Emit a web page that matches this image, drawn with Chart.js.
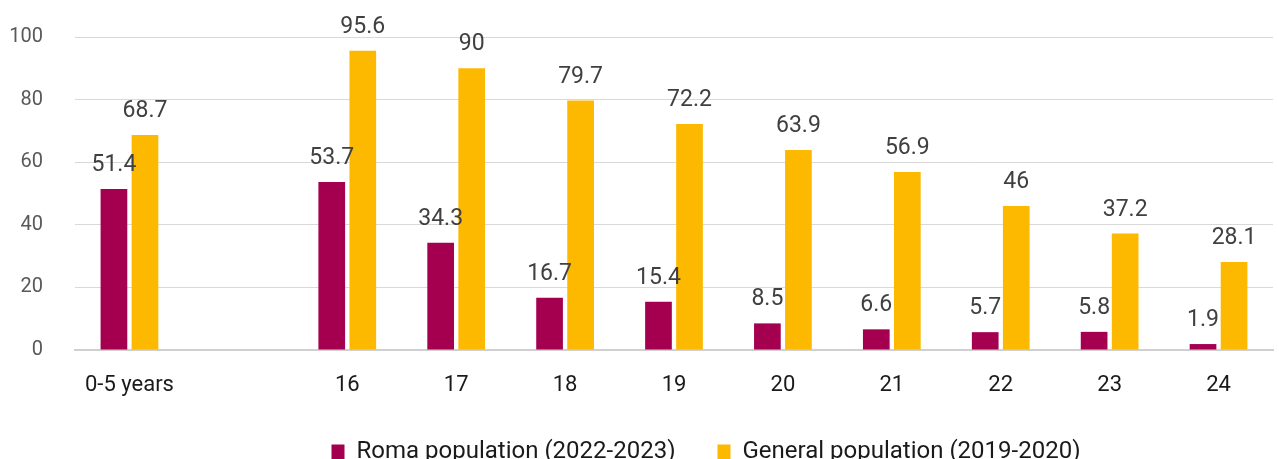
<!DOCTYPE html>
<html>
<head>
<meta charset="utf-8">
<script src="https://cdn.jsdelivr.net/npm/chart.js@4"></script>
<style>
  html, body { margin: 0; padding: 0; background: #fff; }
  #wrap { width: 1279px; height: 459px; }
</style>
</head>
<body>
<div id="wrap"><canvas id="grafico"></canvas></div>
<script>
const categorias = ["0-5 years", "", "16", "17", "18", "19", "20", "21", "22", "23", "24"];
const roma = [51.4, null, 53.7, 34.3, 16.7, 15.4, 8.5, 6.6, 5.7, 5.8, 1.9];
const geral = [68.7, null, 95.6, 90, 79.7, 72.2, 63.9, 56.9, 46, 37.2, 28.1];
const ticksY = [0, 20, 40, 60, 80, 100];

// escreve o valor acima de cada barra
const rotulos = {
  id: "rotulos",
  afterDatasetsDraw(chart) {
    const ctx = chart.ctx;
    ctx.save();
    ctx.font = "23px Roboto";
    ctx.fillStyle = "#404040";
    ctx.textAlign = "center";
    ctx.textBaseline = "alphabetic";
    chart.data.datasets.forEach((ds, i) => {
      chart.getDatasetMeta(i).data.forEach((bar, j) => {
        if (ds.data[j] == null) return;
        ctx.fillText(String(ds.data[j]), bar.x, bar.y - 18);
      });
    });
    ctx.restore();
  },
};

// empurra a legenda um pouco para a direita
const legendaDireita = {
  id: "legendaDireita",
  afterLayout(chart) {
    if (chart.legend) chart.legend.left += 139;
  },
};

const ctxGrafico = document.getElementById("grafico");
new Chart(ctxGrafico, {
  type: "bar",
  data: {
    labels: categorias,
    datasets: [
      {
        label: "Roma population (2022-2023)",
        data: roma,
        backgroundColor: "#a50050",
        categoryPercentage: 0.57,
        barPercentage: 0.86,
      },
      {
        label: "General population (2019-2020)",
        data: geral,
        backgroundColor: "#fdb900",
        categoryPercentage: 0.57,
        barPercentage: 0.86,
      },
    ],
  },
  options: {
    responsive: true,
    maintainAspectRatio: false,
    animation: false,
    layout: { padding: { top: 37, right: 6, left: 0, bottom: -15 } },
    plugins: {
      legend: {
        position: "bottom",
        labels: {
          font: { family: "Roboto", size: 24 },
          color: "#1a1a1a",
          boxWidth: 13,
          boxHeight: 15,
          padding: 42,
        },
      },
      tooltip: { enabled: false },
    },
    scales: {
      x: {
        grid: { display: false },
        border: { color: "#d0d0d0", width: 2 },
        ticks: { font: { family: "Roboto", size: 22 }, color: "#1a1a1a", padding: 14 },
        afterFit: (s) => { s.height = 48; },
      },
      y: {
        min: 0,
        max: 100,
        afterBuildTicks: (s) => { s.ticks = ticksY.map((v) => ({ value: v })); },
        grid: { color: "#d9d9d9", lineWidth: 1, tickLength: 32, tickColor: "rgba(0,0,0,0)" },
        border: { display: false },
        ticks: { font: { family: "Roboto", size: 20 }, color: "#595959", padding: 0 },
        afterFit: (s) => { s.width = 75; },
      },
    },
  },
  plugins: [rotulos, legendaDireita],
});
</script>
</body>
</html>
